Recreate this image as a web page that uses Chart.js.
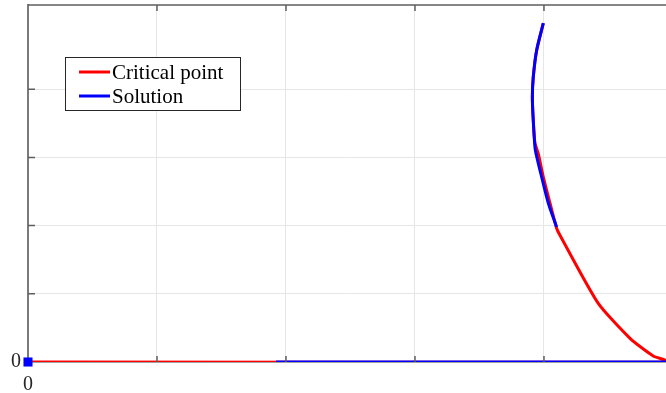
<!DOCTYPE html>
<html>
<head>
<meta charset="utf-8">
<script src="https://cdn.jsdelivr.net/npm/chart.js@4.4.1/dist/chart.umd.min.js"></script>
<style>
  html, body { margin: 0; padding: 0; background: #fff; }
</style>
</head>
<body>
<canvas id="chart" width="666" height="393"></canvas>
<script>
// axis ranges
const xMax = 4.946;
const yMax = 5.235;

// Critical point: along y = 0, then up the curve from the bottom right
const criticalX = [0, 4.95, 4.938, 4.847, 4.667, 4.421, 4.124, 4.098, 4.047, 3.995, 3.956, 3.93, 3.917, 3.91, 3.917, 3.943, 3.995];
const criticalY = [0, 0, 0.029, 0.088, 0.347, 0.859, 1.859, 1.962, 2.328, 2.713, 3.055, 3.21, 3.543, 3.884, 4.177, 4.568, 4.968];

// Solution: a stretch on y = 0 and the upper branch of the curve
const solutionBaseX = [1.922, 4.95];
const solutionBaseY = [0, 0];
const solutionCurveX = [4.098, 4.034, 3.982, 3.938, 3.93, 3.917, 3.91, 3.917, 3.943, 3.995];
const solutionCurveY = [1.981, 2.328, 2.713, 3.06, 3.15, 3.543, 3.884, 4.177, 4.568, 4.968];

// starting point marker
const startX = [0];
const startY = [0];

const toPoints = (xs, ys) => xs.map((x, i) => ({ x: x, y: ys[i] }));

const solutionPoints = toPoints(solutionBaseX, solutionBaseY)
  .concat([{ x: 4.95, y: null }])
  .concat(toPoints(solutionCurveX, solutionCurveY));

const serif = '"Liberation Serif", "Times New Roman", serif';
const frameColor = '#5e5e5e';

// box ticks on the inside and the top edge, MATLAB style
const framePlugin = {
  id: 'frame',
  afterDatasetsDraw(chart) {
    const { ctx, chartArea: a, scales } = chart;
    ctx.save();
    ctx.strokeStyle = frameColor;
    ctx.lineWidth = 1.5;
    ctx.beginPath();
    ctx.moveTo(a.left, a.top);
    ctx.lineTo(a.right, a.top);
    ctx.stroke();
    ctx.beginPath();
    scales.x.ticks.forEach(t => {
      if (t.value === 0) return;
      const px = scales.x.getPixelForValue(t.value);
      ctx.moveTo(px, a.bottom);
      ctx.lineTo(px, a.bottom - 6);
      ctx.moveTo(px, a.top);
      ctx.lineTo(px, a.top + 6);
    });
    scales.y.ticks.forEach(t => {
      if (t.value === 0) return;
      const py = scales.y.getPixelForValue(t.value);
      ctx.moveTo(a.left, py);
      ctx.lineTo(a.left + 7, py);
    });
    ctx.stroke();
    ctx.restore();
  }
};

// boxed legend inside the plot area
const boxLegend = {
  id: 'boxLegend',
  afterDraw(chart) {
    const { ctx } = chart;
    const items = chart.data.datasets.filter(d => d.label);
    const left = 65, top = 57, w = 175, h = 53, row = 24;
    ctx.save();
    ctx.fillStyle = '#fff';
    ctx.fillRect(left, top, w, h);
    ctx.strokeStyle = '#262626';
    ctx.lineWidth = 1;
    ctx.strokeRect(left + 0.5, top + 0.5, w, h);
    ctx.font = '21px ' + serif;
    ctx.textBaseline = 'middle';
    items.forEach((d, i) => {
      const y = top + 15 + i * row;
      ctx.strokeStyle = d.borderColor;
      ctx.lineWidth = 3;
      ctx.beginPath();
      ctx.moveTo(left + 14, y);
      ctx.lineTo(left + 45, y);
      ctx.stroke();
      ctx.fillStyle = '#000';
      ctx.fillText(d.label, left + 47, y + 1);
    });
    ctx.restore();
  }
};

const onlyIntegers = scale => {
  scale.ticks = scale.ticks.filter(t => Number.isInteger(t.value));
};

new Chart(document.getElementById('chart'), {
  type: 'line',
  data: {
    datasets: [
      {
        label: 'Critical point',
        data: toPoints(criticalX, criticalY),
        borderColor: '#ff0000',
        borderWidth: 3,
        pointRadius: 0,
        tension: 0.2,
        order: 3
      },
      {
        label: 'Solution',
        data: solutionPoints,
        borderColor: '#0000ff',
        borderWidth: 3,
        pointRadius: 0,
        tension: 0.3,
        spanGaps: false,
        order: 2
      },
      {
        label: '',
        data: toPoints(startX, startY),
        showLine: false,
        pointStyle: 'rect',
        pointRadius: 6.4,
        backgroundColor: '#0000ff',
        borderColor: '#0000ff',
        borderWidth: 0,
        clip: false,
        order: 1
      }
    ]
  },
  options: {
    responsive: false,
    animation: false,
    layout: { autoPadding: false, padding: { top: 5, right: 0, left: 0, bottom: 0 } },
    plugins: {
      legend: { display: false },
      tooltip: { enabled: false }
    },
    scales: {
      x: {
        type: 'linear',
        min: 0,
        max: xMax,
        afterBuildTicks: onlyIntegers,
        afterFit: s => {
          s.height = 31;
          s.paddingLeft = 0;
          s.paddingRight = 0;
        },
        ticks: {
          stepSize: 1,
          padding: 11,
          maxRotation: 0,
          color: '#262626',
          font: { family: serif, size: 20 },
          callback: v => (v === 0 ? '0' : '')
        },
        grid: { color: '#e6e6e6', lineWidth: 1, drawTicks: false },
        border: { color: frameColor, width: 1.5 }
      },
      y: {
        type: 'linear',
        min: 0,
        max: yMax,
        afterBuildTicks: onlyIntegers,
        afterFit: s => {
          s.width = 28;
          s.paddingTop = 0;
          s.paddingBottom = 0;
        },
        ticks: {
          stepSize: 1,
          padding: 7,
          color: '#262626',
          font: { family: serif, size: 20 },
          callback: v => (v === 0 ? '0' : '')
        },
        grid: { color: '#e6e6e6', lineWidth: 1, drawTicks: false },
        border: { color: '#7a7a7a', width: 2 }
      }
    }
  },
  plugins: [framePlugin, boxLegend]
});
</script>
</body>
</html>
